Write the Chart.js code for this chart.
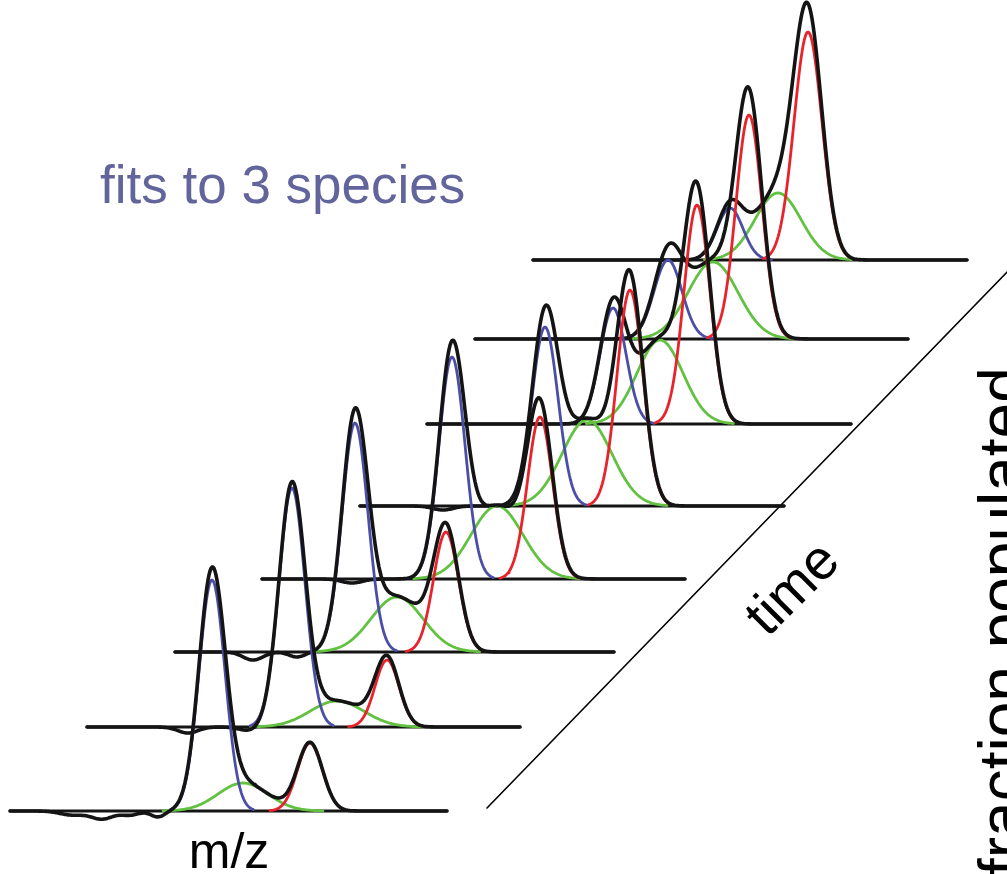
<!DOCTYPE html>
<html>
<head>
<meta charset="utf-8">
<script src="https://cdn.jsdelivr.net/npm/chart.js@4"></script>
<style>
  html, body { margin: 0; padding: 0; background: #fff; }
  #wrap { width: 1007px; height: 874px; }
</style>
</head>
<body>
<div id="wrap"><canvas id="chart" width="1007" height="874"></canvas></div>
<script>
// waterfall of 8 spectra, earliest at the front (bottom-left), latest at the back
const traces = ['t1', 't2', 't3', 't4', 't5', 't6', 't7', 't8'];
const baseline = [63, 147, 222, 295, 368, 450, 535, 614];
const mzStart = [10, 87, 175, 262, 360, 427, 475, 533];
const mzEnd = [447, 520, 614, 685, 784, 851, 908, 967];

// fitted species: centre, height, width
const blueCenter = [212, 292, 355, 452, 545, 613, 668, 730];
const blueHeight = [231, 239, 229, 222, 179, 116, 79, 52];
const blueWidth = [13, 13, 13, 13, 13, 13, 14, 13];

const greenCenter = [243, 337, 397, 497, 587, 660, 713, 778];
const greenHeight = [28, 26, 55, 73, 86, 84, 77, 67];
const greenWidth = [25, 27, 26, 26, 25, 23, 25, 23];

const redCenter = [310, 387, 446, 540, 630, 697, 749, 808];
const redHeight = [68, 67, 120, 162, 216, 219, 224, 228];
const redWidth = [12.5, 12, 12.5, 12.5, 13, 13, 13, 14];

// raw-data residuals off the fit (x, size, width)
const residuals = [
  [[72, -4, 12], [102, -8, 11], [130, -4, 9], [158, -6, 7]],
  [[188, -6, 10], [250, -4, 10]],
  [[253, -8, 10], [297, -5, 8]],
  [[352, -4, 10]],
  [[443, -4, 10]],
  [], [], []
];

const timeAxis = [[487, 66], [1012, 607]];

const COLORS = { black: '#141414', blue: '#4b4ea6', green: '#63c142', red: '#e8232b' };

function gauss(x, c, h, w) {
  const d = (x - c) / w;
  return h * Math.exp(-0.5 * d * d);
}

function peakPoints(i, c, h, w) {
  const pts = [];
  for (let x = c - 3.2 * w; x <= c + 3.2 * w; x += 1) {
    pts.push({ x: x, y: baseline[i] + gauss(x, c, h, w) });
  }
  return pts;
}

function rawPoints(i) {
  const pts = [];
  for (let x = mzStart[i]; x <= mzEnd[i]; x += 1) {
    let y = baseline[i]
      + gauss(x, blueCenter[i], blueHeight[i], blueWidth[i])
      + gauss(x, greenCenter[i], greenHeight[i], greenWidth[i])
      + gauss(x, redCenter[i], redHeight[i], redWidth[i]);
    residuals[i].forEach(r => { y += gauss(x, r[0], r[1], r[2]); });
    pts.push({ x: x, y: y });
  }
  return pts;
}

const datasets = [];
traces.forEach((name, i) => {
  const o = i * 10;
  datasets.push({ label: name + ' data', data: rawPoints(i), borderColor: COLORS.black, borderWidth: 3.6, order: o });
  datasets.push({ label: name + ' red', data: peakPoints(i, redCenter[i], redHeight[i], redWidth[i]), borderColor: COLORS.red, borderWidth: 2.8, order: o + 1 });
  datasets.push({ label: name + ' blue', data: peakPoints(i, blueCenter[i], blueHeight[i], blueWidth[i]), borderColor: COLORS.blue, borderWidth: 2.8, order: o + 2 });
  datasets.push({ label: name + ' green', data: peakPoints(i, greenCenter[i], greenHeight[i], greenWidth[i]), borderColor: COLORS.green, borderWidth: 2.8, order: o + 3 });
  datasets.push({
    label: name + ' baseline',
    data: [{ x: mzStart[i], y: baseline[i] }, { x: mzEnd[i], y: baseline[i] }],
    borderColor: COLORS.black, borderWidth: 2.8, order: o + 4
  });
});
datasets.push({
  label: 'time',
  data: timeAxis.map(p => ({ x: p[0], y: p[1] })),
  borderColor: '#000', borderWidth: 1.6, order: 200
});

const labelsPlugin = {
  id: 'labels',
  afterDraw(chart) {
    const ctx = chart.ctx;
    const font = '"Liberation Sans", Arial, sans-serif';
    ctx.save();
    ctx.fillStyle = '#62649c';
    ctx.font = '53px ' + font;
    ctx.textAlign = 'left';
    ctx.textBaseline = 'alphabetic';
    ctx.fillText('fits to 3 species', 100, 203);

    ctx.fillStyle = '#000';
    ctx.font = '50px ' + font;
    ctx.textAlign = 'center';
    ctx.fillText('m/z', 229, 868);

    ctx.save();
    ctx.translate(794, 590);
    ctx.rotate(-45 * Math.PI / 180);
    ctx.font = '56px ' + font;
    ctx.textBaseline = 'middle';
    ctx.fillText('time', 0, 0);
    ctx.restore();

    ctx.save();
    ctx.translate(1024, 876);
    ctx.rotate(-Math.PI / 2);
    ctx.font = '64px ' + font;
    ctx.textAlign = 'left';
    ctx.fillText('fraction populated', 0, 0);
    ctx.restore();
    ctx.restore();
  }
};

new Chart(document.getElementById('chart'), {
  type: 'line',
  data: { datasets: datasets },
  options: {
    responsive: false,
    animation: false,
    layout: { padding: 0 },
    elements: { point: { radius: 0 }, line: { tension: 0, borderCapStyle: 'round', borderJoinStyle: 'round' } },
    scales: {
      x: { type: 'linear', min: 0, max: 1007, display: false },
      y: { type: 'linear', min: 0, max: 874, display: false }
    },
    plugins: { legend: { display: false }, tooltip: { enabled: false } }
  },
  plugins: [labelsPlugin]
});
</script>
</body>
</html>
